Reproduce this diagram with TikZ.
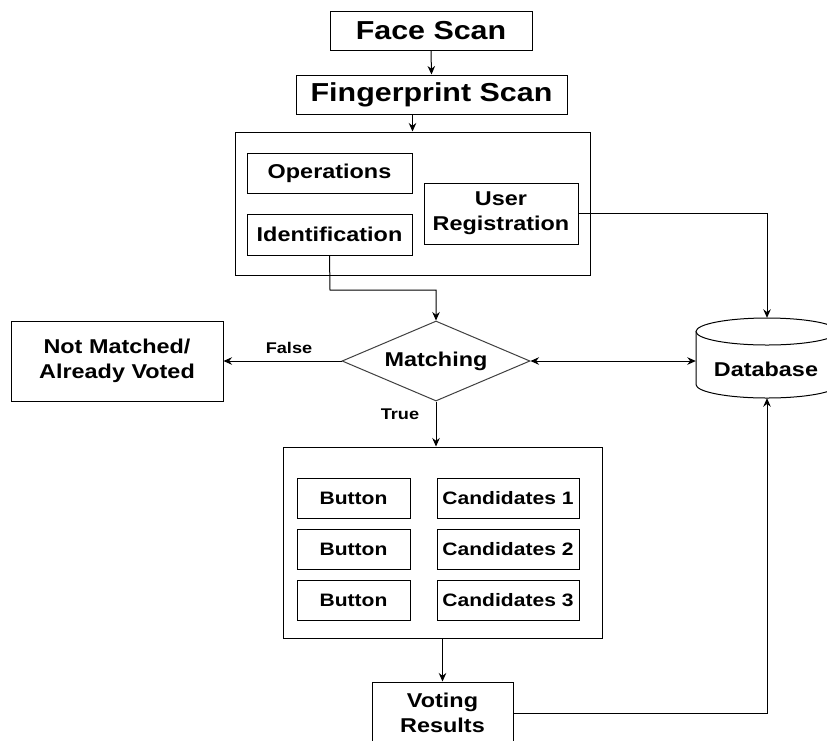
\documentclass[tikz,border=0pt]{standalone}
\usepackage{fontspec}
\setmainfont{Liberation Sans}[FakeStretch=1.17]
\usetikzlibrary{arrows.meta,shapes.geometric}
\tikzset{
  box/.style={draw=black, line width=1pt, inner sep=0pt, align=center, font=\bfseries\fontsize{20}{25}\selectfont},
  bigbox/.style={box, font=\bfseries\fontsize{26}{30}\selectfont},
  smallbox/.style={box, font=\bfseries\fontsize{18}{22}\selectfont},
  lbl/.style={inner sep=0pt, font=\bfseries\fontsize{15.5}{18}\selectfont},
  conn/.style={line width=1pt, draw=black},
  arr/.style={conn, -{Stealth[length=8.5pt,width=7.5pt]}},
  darr/.style={conn, {Stealth[length=8.5pt,width=7.5pt]}-{Stealth[length=8.5pt,width=7.5pt]}},
}
\begin{document}
\begin{tikzpicture}[x=1pt,y=-1pt]
\useasboundingbox (0,0) rectangle (827,740);
\clip (0,0) rectangle (827,740);
\fill[white] (0,0) rectangle (827,740);

% top chain
\node[bigbox, minimum width=202, minimum height=39] (face) at (431,31) {Face Scan};
\node[bigbox, minimum width=271, minimum height=39] (finger) at (431.5,94.5) {Fingerprint Scan};

% operations container
\node[box, minimum width=355, minimum height=143] (cont1) at (412.5,203.5) {};
\node[box, minimum width=165, minimum height=40] (ops) at (329.5,173) {Operations};
\node[box, minimum width=165, minimum height=41] (ident) at (329.5,234.5) {Identification};
\node[box, minimum width=154, minimum height=61] (userreg) at (501,213.5) {User\\Registration};

% decision
\node[draw=black!75, line width=1pt, shape=diamond, aspect=2.35, inner sep=0pt,
      minimum width=188, minimum height=80, font=\bfseries\fontsize{20}{24}\selectfont] (match) at (436,361) {Matching};
\node[box, minimum width=212, minimum height=80] (notm) at (117,361) {Not Matched/\\Already Voted};

% database (cylinder)
\node[inner sep=0pt, minimum width=142, minimum height=80] (db) at (767,358) {};
\draw[line width=1pt] (696,331.5) -- (696,384.5) arc[start angle=180, end angle=0, x radius=71, y radius=13.5] -- (838,331.5);
\draw[line width=1pt] (767,331.5) ellipse [x radius=71, y radius=13.5];
\node[inner sep=0pt, font=\bfseries\fontsize{20}{24}\selectfont] (dbtext) at (766,369) {Database};

% candidates container
\node[box, minimum width=319, minimum height=191] (cont2) at (442.5,542.5) {};
\node[smallbox, minimum width=113, minimum height=40] (b1) at (353.5,498.5) {Button};
\node[smallbox, minimum width=113, minimum height=40] (b2) at (353.5,549) {Button};
\node[smallbox, minimum width=113, minimum height=40] (b3) at (353.5,600) {Button};
\node[smallbox, minimum width=142, minimum height=40] (c1) at (508,498.5) {Candidates 1};
\node[smallbox, minimum width=142, minimum height=40] (c2) at (508,549) {Candidates 2};
\node[smallbox, minimum width=142, minimum height=40] (c3) at (508,600) {Candidates 3};

% voting results
\node[box, minimum width=141, minimum height=62] (res) at (442.5,713) {Voting\\Results};

% connectors
\draw[arr] (face.south) -- (finger.north);
\draw[arr] (cont1.north |- finger.south) -- (cont1.north);
\coordinate (bend) at (330,290);
\draw[arr] (ident.south) -- (bend) -| (match.north);
\draw[arr] (userreg.east) -| (db.north);
\draw[arr] (match.west) -- (notm.east);
\node[lbl] (flabel) at (289,348) {False};
\draw[darr] (match.east) -- (match.east -| db.west);
\draw[arr] (match.south) -- (match.south |- cont2.north);
\node[lbl] (tlabel) at (400,414) {True};
\draw[arr] (cont2.south) -- (res.north);
\draw[arr] (res.east) -| (db.south);
\end{tikzpicture}
\end{document}
